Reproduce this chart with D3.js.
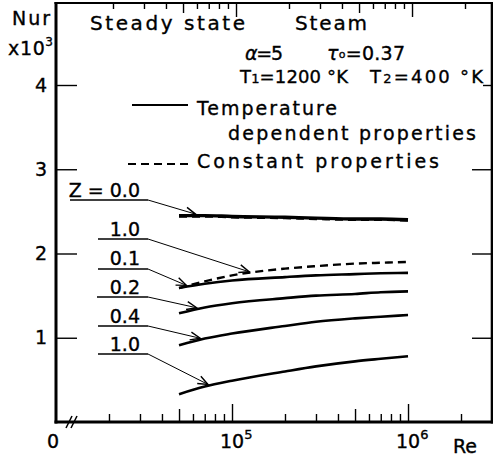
<!DOCTYPE html>
<html>
<head>
<meta charset="utf-8">
<script src="https://cdn.jsdelivr.net/npm/d3@7"></script>
<style>
  html, body { margin: 0; padding: 0; background: #fff; }
  svg { display: block; font-family: "DejaVu Sans", sans-serif; }
  svg text { stroke: #000; stroke-width: 0.35px; fill: #000; }
</style>
</head>
<body>
<svg id="chart" width="493" height="463"></svg>
<script>
// Reynolds numbers at which the curves are sampled
const reynolds = [5e4, 7e4, 1e5, 2e5, 3e5, 5e5, 7e5, 1e6];

// Nur (x10^3), temperature dependent properties, for each axial position Z
const nurZ00 = [2.45, 2.45, 2.44, 2.43, 2.42, 2.41, 2.41, 2.40];
const nurZ01 = [1.59, 1.64, 1.68, 1.72, 1.74, 1.755, 1.765, 1.77];
const nurZ02 = [1.29, 1.36, 1.41, 1.47, 1.50, 1.52, 1.54, 1.55];
const nurZ04 = [0.91, 0.99, 1.05, 1.14, 1.19, 1.23, 1.25, 1.27];
const nurZ10 = [0.33, 0.42, 0.49, 0.60, 0.66, 0.72, 0.75, 0.78];

// Nur (x10^3), constant properties
const nurConstZ00 = [2.44, 2.44, 2.43, 2.42, 2.41, 2.40, 2.40, 2.39];
const nurConstZ10 = [1.59, 1.67, 1.74, 1.82, 1.85, 1.88, 1.89, 1.90];

// Z labels, the curve each one points at, and the Re of the arrow tip
const zLabels = ["Z = 0.0", "1.0", "0.1", "0.2", "0.4", "1.0"];
const zTargets = [nurZ00, nurConstZ10, nurZ01, nurZ02, nurZ04, nurZ10];
const zArrowRe = [6.2e4, 1.25e5, 5.5e4, 6.3e4, 6.6e4, 7.3e4];

// axis ticks
const yTicks = [1, 2, 3, 4];
const reTicks = [2e4, 3e4, 4e4, 5e4, 6e4, 7e4, 8e4, 9e4, 1e5,
                 2e5, 3e5, 4e5, 5e5, 6e5, 7e5, 8e5, 9e5, 1e6, 2e6];

const svg = d3.select("#chart");
const frame = { left: 56, right: 492, top: 3, bottom: 422 };

const x = d3.scaleLog().domain([1e4, 3e6]).range([frame.left, frame.right]);
const y = d3.scaleLinear().domain([0, 4]).range([frame.bottom, 85]);

const lead = v => Math.round(v / Math.pow(10, Math.floor(Math.log10(v) + 1e-9)));
const decadeTicks = reTicks.filter(v => lead(v) === 1);
const fiveTicks = reTicks.filter(v => lead(v) === 5);
const minorTicks = reTicks.filter(v => lead(v) !== 1 && lead(v) !== 5);

function tickAxis(axisFn, values, size, transform) {
  const g = svg.append("g")
    .attr("transform", transform)
    .call(axisFn.tickValues(values).tickSize(size).tickFormat(""));
  g.select(".domain").remove();
  g.selectAll(".tick line").attr("stroke", "#000").attr("stroke-width", 1.4);
  return g;
}

// bottom ticks point into the plot, top ticks hang from the upper edge
[[decadeTicks, 18], [fiveTicks, 13], [minorTicks, 8]].forEach(([vals, len]) => {
  tickAxis(d3.axisBottom(x), vals, -len, `translate(0,${frame.bottom})`);
  tickAxis(d3.axisTop(x), vals, -Math.round(len * 0.75), `translate(4,${frame.top})`);
});

// left axis ticks and labels
const yAxis = svg.append("g")
  .attr("transform", `translate(${frame.left},0)`)
  .call(d3.axisLeft(y).tickValues(yTicks).tickSize(-21).tickPadding(9).tickFormat(d3.format("d")));
yAxis.select(".domain").remove();
yAxis.selectAll(".tick line").attr("stroke", "#000").attr("stroke-width", 1.4);
yAxis.selectAll(".tick text")
  .attr("font-family", "DejaVu Sans, sans-serif")
  .attr("font-size", 19).attr("fill", "#000");

// right axis ticks
const yRight = svg.append("g")
  .attr("transform", `translate(${frame.right},0)`)
  .call(d3.axisRight(y).tickValues(yTicks.slice(0, 3)).tickSize(-20).tickFormat(""));
yRight.select(".domain").remove();
yRight.selectAll(".tick line").attr("stroke", "#000").attr("stroke-width", 1.4);
const yRightTop = svg.append("g")
  .attr("transform", `translate(${frame.right},0)`)
  .call(d3.axisRight(y).tickValues(yTicks.slice(3)).tickSize(-9).tickFormat(""));
yRightTop.select(".domain").remove();
yRightTop.selectAll(".tick line").attr("stroke", "#000").attr("stroke-width", 1.4);

// frame
const frameG = svg.append("g").attr("stroke", "#000").attr("fill", "none");
frameG.append("line").attr("x1", frame.left).attr("x2", frame.left)
  .attr("y1", frame.top - 1).attr("y2", frame.bottom + 1.5).attr("stroke-width", 3);
frameG.append("line").attr("x1", frame.left - 1.5).attr("x2", frame.right + 1)
  .attr("y1", frame.bottom).attr("y2", frame.bottom).attr("stroke-width", 3);
frameG.append("line").attr("x1", frame.left - 1.5).attr("x2", frame.right + 1)
  .attr("y1", frame.top).attr("y2", frame.top).attr("stroke-width", 2.2);
frameG.append("line").attr("x1", frame.right).attr("x2", frame.right)
  .attr("y1", frame.top).attr("y2", frame.bottom + 1.5).attr("stroke-width", 2.6);

// axis break on the Re axis
[0, 5].forEach(dx => {
  svg.append("line")
    .attr("x1", 66 + dx).attr("y1", frame.bottom + 6)
    .attr("x2", 72 + dx).attr("y2", frame.bottom - 6)
    .attr("stroke", "#000").attr("stroke-width", 1.6);
});

// curves
const line = d3.line()
  .x((d, i) => x(reynolds[i]))
  .y(d => y(d))
  .curve(d3.curveMonotoneX);

[nurZ00].forEach(s => svg.append("path").attr("d", line(s))
  .attr("fill", "none").attr("stroke", "#000").attr("stroke-width", 3.4));
[nurZ01, nurZ02, nurZ04, nurZ10].forEach(s => svg.append("path").attr("d", line(s))
  .attr("fill", "none").attr("stroke", "#000").attr("stroke-width", 2.6));
[nurConstZ00, nurConstZ10].forEach(s => svg.append("path").attr("d", line(s))
  .attr("fill", "none").attr("stroke", "#000").attr("stroke-width", 2.4)
  .attr("stroke-dasharray", "8,5"));

// arrowhead for the Z leader lines
svg.append("defs").append("marker")
  .attr("id", "arrow").attr("markerUnits", "userSpaceOnUse")
  .attr("viewBox", "-12 -6 14 12").attr("refX", 0).attr("refY", 0)
  .attr("markerWidth", 14).attr("markerHeight", 12).attr("orient", "auto")
  .append("path").attr("d", "M-10,-4 L0,0 L-10,4")
  .attr("fill", "none").attr("stroke", "#000").attr("stroke-width", 1.4);

function valueAt(series, re) {
  const lr = Math.log10(re);
  for (let i = 0; i < reynolds.length - 1; i++) {
    const a = Math.log10(reynolds[i]), b = Math.log10(reynolds[i + 1]);
    if (lr >= a && lr <= b) {
      const t = (lr - a) / (b - a);
      return series[i] + t * (series[i + 1] - series[i]);
    }
  }
  return series[series.length - 1];
}

// Z labels: text, underline, leader line to the curve
const labelBaseline = [197, 236, 265, 294, 323, 351];
const underlineY = [200, 239, 269, 297, 326, 354];
const underlineX0 = [70, 98, 98, 97, 98, 98];
const labelEnd = 140, leaderX0 = 148;
zLabels.forEach((t, i) => {
  svg.append("text").text(t)
    .attr("x", labelEnd).attr("y", labelBaseline[i])
    .attr("text-anchor", "end").attr("font-size", 19);
  svg.append("line")
    .attr("x1", underlineX0[i]).attr("x2", leaderX0)
    .attr("y1", underlineY[i]).attr("y2", underlineY[i])
    .attr("stroke", "#000").attr("stroke-width", 1.3);
  const tx = x(zArrowRe[i]);
  const ty = y(valueAt(zTargets[i], zArrowRe[i])) - 1.5;
  svg.append("line")
    .attr("x1", leaderX0).attr("y1", underlineY[i])
    .attr("x2", tx).attr("y2", ty)
    .attr("stroke", "#000").attr("stroke-width", 1)
    .attr("marker-end", "url(#arrow)");
});

// text helper
function label(parts, xPos, yPos, size, width) {
  const t = svg.append("text").attr("x", xPos).attr("y", yPos).attr("font-size", size);
  parts.forEach(p => {
    const s = t.append("tspan").text(p.t);
    if (p.size) s.attr("font-size", p.size);
    if (p.dy) s.attr("dy", p.dy);
    if (p.style) s.attr("font-style", p.style);
  });
  if (width) t.attr("textLength", width).attr("lengthAdjust", "spacing");
  return t;
}

// axis titles
label([{ t: "Nur" }], 12, 25, 19, 38);
label([{ t: "x10" }, { t: "3", size: 12, dy: -9 }], 8, 55, 19, 45);
label([{ t: "0" }], 47, 448, 19);
label([{ t: "10" }, { t: "5", size: 13, dy: -9 }], x(1e5) - 12, 448, 19);
label([{ t: "10" }, { t: "6", size: 13, dy: -9 }], x(1e6) - 12, 448, 19);
label([{ t: "Re" }], 453, 453, 19);

// heading and conditions
label([{ t: "Steady state" }], 90, 30, 20, 155);
label([{ t: "Steam" }], 295, 30, 20, 72);
label([{ t: "α", style: "italic" }, { t: "=5" }], 245, 60, 19, 38);
label([{ t: "τ", style: "italic" }, { t: "o", size: 11, dy: -2 }, { t: "=0.37", dy: 2 }], 327, 60, 19, 78);
label([{ t: "T" }, { t: "1", size: 13 }, { t: "=1200 °K" }], 240, 83, 18, 108);
label([{ t: "T" }, { t: "2", size: 13 }, { t: "=400 °K" }], 370, 83, 18, 113);

// legend
svg.append("line").attr("x1", 132).attr("x2", 188).attr("y1", 105).attr("y2", 105)
  .attr("stroke", "#000").attr("stroke-width", 2.2);
svg.append("line").attr("x1", 128).attr("x2", 188).attr("y1", 164).attr("y2", 164)
  .attr("stroke", "#000").attr("stroke-width", 2.2).attr("stroke-dasharray", "8,5");
label([{ t: "Temperature" }], 197, 115, 19, 140);
label([{ t: "dependent properties" }], 228, 140, 19, 248);
label([{ t: "Constant properties" }], 197, 168, 19, 242);
</script>
</body>
</html>
